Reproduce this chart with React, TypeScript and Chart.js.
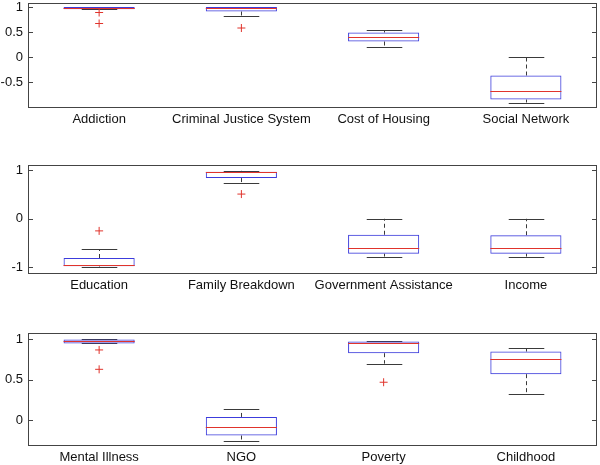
import React, { useEffect, useRef } from "react";
import { Chart, registerables } from "chart.js";

Chart.register(...registerables);

// ---- Data ----
const categories1 = ["Addiction", "Criminal Justice System", "Cost of Housing", "Social Network"];
const lower1 = [0.955, 0.83, 0.21, -0.91];
const q1_1 = [0.955, 0.91, 0.31, -0.85];
const median1 = [0.99, 0.99, 0.39, -0.67];
const q3_1 = [1.0, 1.0, 0.49, -0.37];
const upper1 = [1.0, 1.0, 0.53, 0.0];
const outliers1 = [[0.89, 0.67], [0.58], [], []];
const yTicks1 = [-0.5, 0, 0.5, 1];
const yRange1 = [-1.02, 1.08];

const categories2 = ["Education", "Family Breakdown", "Government Assistance", "Income"];
const lower2 = [-0.99, 0.74, -0.78, -0.78];
const q1_2 = [-0.98, 0.84, -0.72, -0.72];
const median2 = [-0.96, 0.96, -0.6, -0.6];
const q3_2 = [-0.81, 0.97, -0.33, -0.34];
const upper2 = [-0.63, 0.99, 0.0, 0.0];
const outliers2 = [[-0.25], [0.51], [], []];
const yTicks2 = [-1, 0, 1];
const yRange2 = [-1.14, 1.11];

const categories3 = ["Mental Illness", "NGO", "Poverty", "Childhood"];
const lower3 = [0.95, -0.26, 0.7, 0.32];
const q1_3 = [0.95, -0.19, 0.83, 0.57];
const median3 = [0.98, -0.09, 0.95, 0.76];
const q3_3 = [1.0, 0.04, 0.975, 0.85];
const upper3 = [1.0, 0.135, 0.98, 0.89];
const outliers3 = [[0.87, 0.63], [], [0.47], []];
const yTicks3 = [0, 0.5, 1];
const yRange3 = [-0.32, 1.08];

const BOX_COLOR = "#3c3cdc";
const MEDIAN_COLOR = "#e0342c";
const WHISKER_COLOR = "#3a3a3a";
const FRAME_COLOR = "#444444";
const OUTLIER_COLOR = "#e0342c";
const FONT = "'Liberation Sans', Arial, sans-serif";

type PanelProps = {
  categories: string[];
  lower: number[];
  q1: number[];
  median: number[];
  q3: number[];
  upper: number[];
  outliers: number[][];
  yTicks: number[];
  yRange: number[];
  top: number;
  height: number;
  xHeight: number;
};

function Panel(p: PanelProps) {
  const ref = useRef<HTMLCanvasElement | null>(null);
  useEffect(() => {
    if (!ref.current) return;
    const outlierPts: { x: string; y: number }[] = [];
    p.outliers.forEach((arr, i) => arr.forEach((v) => outlierPts.push({ x: p.categories[i], y: v })));

    const boxPlugin = {
      id: "boxExtras",
      beforeDatasetsDraw(chart: any) {
        const ctx = chart.ctx;
        const x = chart.scales.x;
        const y = chart.scales.y;
        const catW = x.getPixelForValue(1) - x.getPixelForValue(0);
        const capHalf = catW * 0.125;
        ctx.save();
        ctx.strokeStyle = WHISKER_COLOR;
        ctx.lineWidth = 1;
        p.categories.forEach((_, i) => {
          const cx = Math.round(x.getPixelForValue(i)) + 0.5;
          ctx.setLineDash([4, 3]);
          ctx.beginPath();
          ctx.moveTo(cx, y.getPixelForValue(p.q3[i]));
          ctx.lineTo(cx, y.getPixelForValue(p.upper[i]));
          ctx.moveTo(cx, y.getPixelForValue(p.q1[i]));
          ctx.lineTo(cx, y.getPixelForValue(p.lower[i]));
          ctx.stroke();
          ctx.setLineDash([]);
          ctx.beginPath();
          const yu = Math.round(y.getPixelForValue(p.upper[i])) + 0.5;
          const yl = Math.round(y.getPixelForValue(p.lower[i])) + 0.5;
          ctx.moveTo(cx - capHalf, yu);
          ctx.lineTo(cx + capHalf, yu);
          ctx.moveTo(cx - capHalf, yl);
          ctx.lineTo(cx + capHalf, yl);
          ctx.stroke();
        });
        ctx.restore();
      },
      afterDatasetsDraw(chart: any) {
        const ctx = chart.ctx;
        const x = chart.scales.x;
        const y = chart.scales.y;
        const catW = x.getPixelForValue(1) - x.getPixelForValue(0);
        const boxHalf = catW * 0.25;
        ctx.save();
        ctx.strokeStyle = MEDIAN_COLOR;
        ctx.lineWidth = 1;
        p.categories.forEach((_, i) => {
          const cx = x.getPixelForValue(i);
          const ym = Math.round(y.getPixelForValue(p.median[i])) + 0.5;
          ctx.beginPath();
          ctx.moveTo(cx - boxHalf, ym);
          ctx.lineTo(cx + boxHalf, ym);
          ctx.stroke();
        });
        ctx.restore();
      },
      afterDraw(chart: any) {
        const ctx = chart.ctx;
        const a = chart.chartArea;
        const y = chart.scales.y;
        ctx.save();
        ctx.strokeStyle = FRAME_COLOR;
        ctx.lineWidth = 1;
        ctx.strokeRect(Math.round(a.left) + 0.5, Math.round(a.top) + 0.5, Math.round(a.right - a.left) - 1, Math.round(a.bottom - a.top) - 1);
        ctx.beginPath();
        p.yTicks.forEach((v) => {
          const py = Math.round(y.getPixelForValue(v)) + 0.5;
          ctx.moveTo(a.left, py);
          ctx.lineTo(a.left + 5, py);
          ctx.moveTo(a.right - 5, py);
          ctx.lineTo(a.right, py);
        });
        ctx.stroke();
        ctx.restore();
      },
    };

    const chart = new Chart(ref.current, {
      type: "bar",
      data: {
        labels: p.categories,
        datasets: [
          {
            type: "bar",
            data: p.categories.map((_, i) => [p.q1[i], p.q3[i]]) as any,
            backgroundColor: "rgba(0,0,0,0)",
            borderColor: BOX_COLOR,
            borderWidth: 1,
            borderSkipped: false,
            categoryPercentage: 1,
            barPercentage: 0.5,
          } as any,
          {
            type: "scatter",
            data: outlierPts as any,
            pointStyle: "cross",
            pointRadius: 4,
            borderColor: OUTLIER_COLOR,
            backgroundColor: OUTLIER_COLOR,
            borderWidth: 1,
            showLine: false,
          } as any,
        ],
      },
      options: {
        animation: false,
        responsive: false,
        layout: { autoPadding: false, padding: { top: 3, right: 3, left: 0, bottom: 0 } },
        plugins: { legend: { display: false }, tooltip: { enabled: false } },
        scales: {
          x: {
            type: "category",
            offset: true,
            grid: { display: false, drawTicks: false },
            border: { display: false },
            ticks: { font: { family: FONT, size: 13 }, color: "#111", padding: 4, maxRotation: 0, autoSkip: false },
            afterFit: (s: any) => {
              s.height = p.xHeight;
              s.paddingLeft = 0;
              s.paddingRight = 0;
            },
          },
          y: {
            min: p.yRange[0],
            max: p.yRange[1],
            grid: { display: false, drawTicks: false },
            border: { display: false },
            afterBuildTicks: (s: any) => {
              s.ticks = p.yTicks.map((v) => ({ value: v }));
            },
            ticks: {
              font: { family: FONT, size: 13 },
              color: "#111",
              padding: 5,
              callback: (v: any) => String(v),
            },
            afterFit: (s: any) => {
              s.width = 28;
              s.paddingTop = 0;
              s.paddingBottom = 0;
            },
          },
        },
      },
      plugins: [boxPlugin],
    } as any);
    return () => chart.destroy();
  }, []);
  return (
    <canvas
      ref={ref}
      width={600}
      height={p.height}
      style={{ position: "absolute", left: 0, top: p.top, width: 600, height: p.height, display: "block" }}
    />
  );
}

export default function App() {
  return (
    <div style={{ position: "absolute", left: 0, top: 0, width: 600, height: 465, overflow: "hidden", background: "#fff" }}>
      <Panel categories={categories1} lower={lower1} q1={q1_1} median={median1} q3={q3_1} upper={upper1}
        outliers={outliers1} yTicks={yTicks1} yRange={yRange1} top={0} height={130} xHeight={22} />
      <Panel categories={categories2} lower={lower2} q1={q1_2} median={median2} q3={q3_2} upper={upper2}
        outliers={outliers2} yTicks={yTicks2} yRange={yRange2} top={162} height={134} xHeight={22} />
      <Panel categories={categories3} lower={lower3} q1={q1_3} median={median3} q3={q3_3} upper={upper3}
        outliers={outliers3} yTicks={yTicks3} yRange={yRange3} top={330} height={135} xHeight={19} />
    </div>
  );
}
